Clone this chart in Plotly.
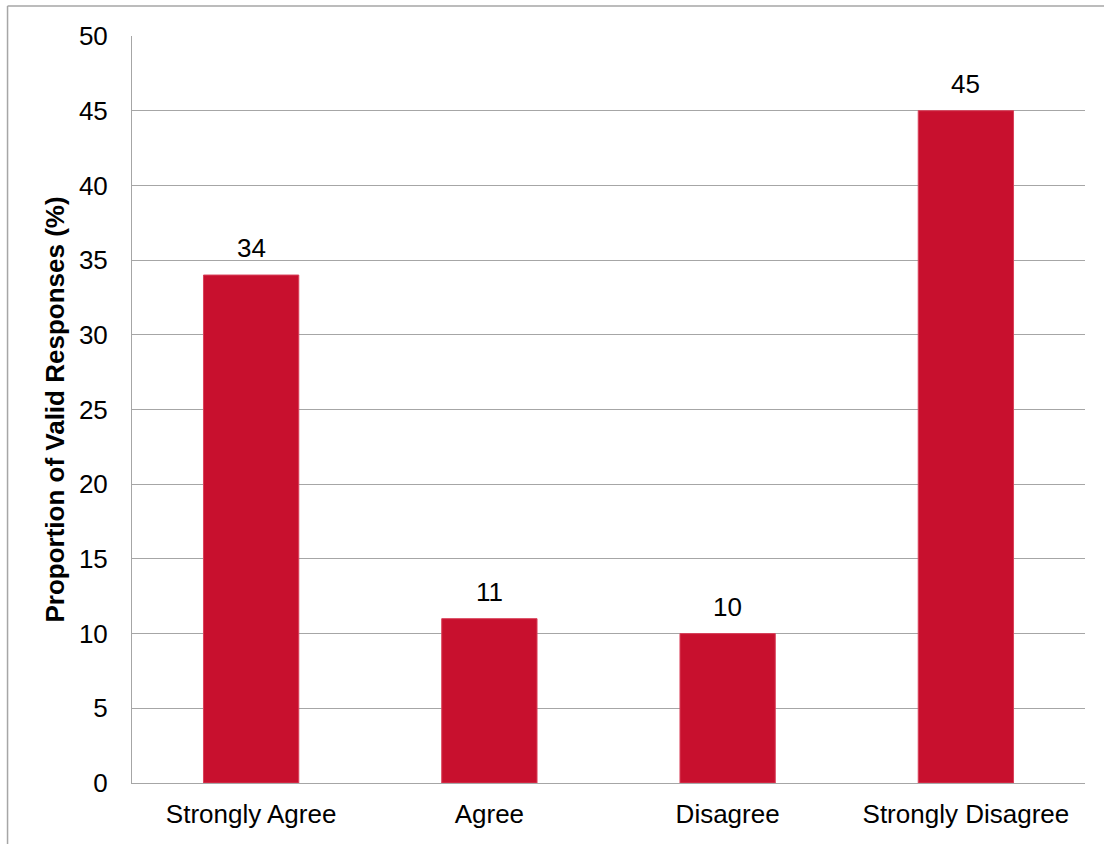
import plotly.graph_objects as go

# Survey response shares (%)
categories = ["Strongly Agree", "Agree", "Disagree", "Strongly Disagree"]
values = [34, 11, 10, 45]
y_ticks = [0, 5, 10, 15, 20, 25, 30, 35, 40, 45, 50]

BAR_COLOR = "#C8102E"
GRID = "#A6A6A6"
FONT = "Liberation Sans, Arial, sans-serif"
FS = 26

fig = go.Figure(
    go.Bar(
        x=categories,
        y=values,
        marker=dict(color=BAR_COLOR, line=dict(color="#D9405A", width=1)),
        hoverinfo="x+y",
    )
)

# Value labels above each bar
for cat, val in zip(categories, values):
    fig.add_annotation(
        x=cat, y=val, text=str(val), showarrow=False,
        yanchor="bottom", yshift=10,
        font=dict(family=FONT, size=FS, color="#000000"),
    )

# Thin frame around the chart area (left and top edges)
fig.add_shape(type="line", xref="paper", yref="paper",
              x0=-0.1306, x1=-0.1306, y0=1.0402, y1=-0.09,
              line=dict(color="#A6A6A6", width=1.5))
fig.add_shape(type="line", xref="paper", yref="paper",
              x0=-0.1306, x1=1.03, y0=1.0402, y1=1.0402,
              line=dict(color="#A6A6A6", width=1.5))

fig.update_layout(
    width=1104, height=844,
    margin=dict(l=132, r=19, t=36, b=61),
    paper_bgcolor="white", plot_bgcolor="white",
    bargap=0.6,
    showlegend=False,
    font=dict(family=FONT, size=FS, color="#000000"),
    xaxis=dict(
        showgrid=False, showline=True, linecolor=GRID, linewidth=1,
        ticks="", tickfont=dict(size=FS), ticklabelstandoff=8,
    ),
    yaxis=dict(
        range=[0, 50], tickvals=y_ticks,
        showgrid=True, gridcolor=GRID, gridwidth=1,
        showline=True, linecolor=GRID, linewidth=1,
        zeroline=False, ticks="", tickfont=dict(size=FS),
        ticklabelstandoff=18,
        title=dict(text="<b>Proportion of Valid Responses (%)</b>",
                   font=dict(size=FS), standoff=6),
    ),
)

fig.write_html("out.html")
